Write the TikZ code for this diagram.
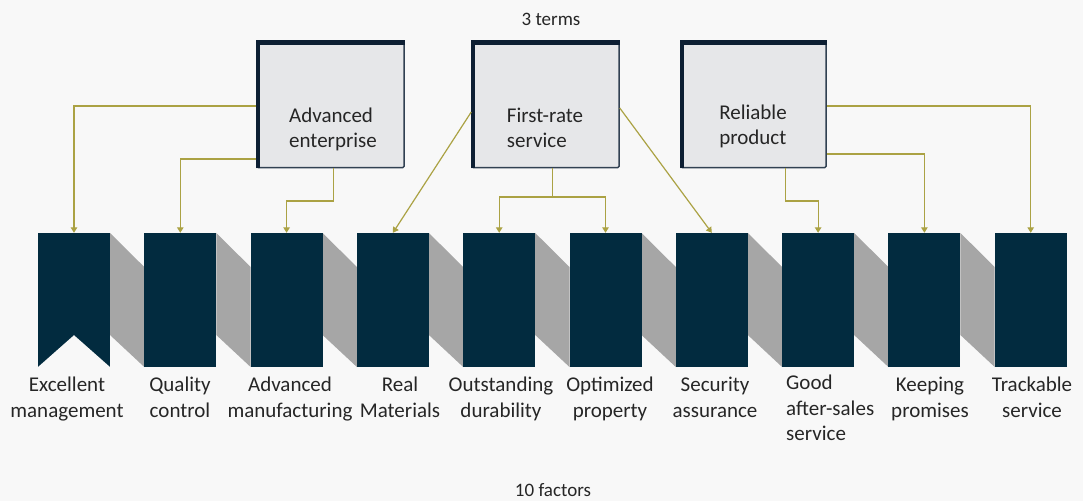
\documentclass[tikz,border=0pt]{standalone}
\usepackage{fontspec}
\setmainfont{Carlito}
\usetikzlibrary{arrows.meta}
\definecolor{bg}{HTML}{F8F8F8}
\definecolor{navy}{HTML}{022B3F}
\definecolor{shadowgray}{HTML}{A6A6A6}
\definecolor{boxfill}{HTML}{E6E7E9}
\definecolor{boxedge}{HTML}{0D1F33}
\definecolor{olive}{HTML}{ABA244}
\definecolor{txt}{HTML}{262626}
\begin{document}
\begin{tikzpicture}[x=1pt,y=-1pt,
 term/.style={draw=boxedge!85, line width=1.5pt, fill=boxfill, minimum height=126pt, inner sep=0pt, rounded corners=1.2pt},
 termtext/.style={font=\fontsize{21}{25}\selectfont, text=txt, align=left, inner sep=0pt},
 factor/.style={fill=navy, minimum width=72pt, minimum height=134pt, inner sep=0pt},
 flabel/.style={font=\fontsize{21}{25.5}\selectfont, text=txt, align=center, anchor=north, inner sep=0pt},
 caption/.style={font=\fontsize{19}{22}\selectfont, text=txt, inner sep=0pt},
 line/.style={draw=olive, line width=1.2pt},
 link/.style={line, -{Triangle[width=6.5pt,length=5.5pt]}},
 thick edge/.style={draw=boxedge, line width=4.5pt},
 band/.style={fill=shadowgray},
]
\fill[bg] (0,0) rectangle (1083,501);
\useasboundingbox (0,0) rectangle (1083,501);

% shadow bands between the factor bars
\foreach \i in {0,...,8}{
  \path[band] ({110+\i*106.3},233) -- ({144.3+\i*106.3},267) -- ({144.3+\i*106.3},367) -- ({110+\i*106.3},335) -- cycle;
}

% factor bars
\foreach \i in {1,...,10}{
  \node[factor] (f\i) at ({74+(\i-1)*106.3},300) {};
}
% notch of the first bar
\fill[bg] (f1.south west) -- ([yshift=32pt]f1.south) -- (f1.south east) -- cycle;

% term boxes
\node[term, minimum width=147pt] (b1) at (330.5,104.5) {};
\node[term, minimum width=147pt] (b2) at (545.5,104.5) {};
\node[term, minimum width=145pt] (b3) at (753.5,104.5) {};
\foreach \b in {b1,b2,b3}{
  \draw[thick edge] ([shift={(1.5pt,0pt)}]\b.south west) -- ([shift={(1.5pt,-1.5pt)}]\b.north west) -- ([shift={(0pt,-1.5pt)}]\b.north east);
}
\node[termtext] (t1) at (333,129) {Advanced\\enterprise};
\node[termtext] (t2) at (545,128) {First-rate\\service};
\node[termtext] (t3) at (753,126) {Reliable\\product};

% connectors
\draw[link] (b1.west |- 0,106) -| (f1.north);
\draw[link] (b1.west |- 0,159) -| (f2.north);
\coordinate (b1s) at ([xshift=3pt]b1.south);
\draw[link] (b1s) -- (b1s |- 0,201) -| (f3.north);

\draw[link] (b2.west |- 0,112) -- (f4.north);
\coordinate (b2s) at ([xshift=7pt]b2.south);
\coordinate (b2j) at (b2s |- 0,197);
\draw[line] (b2s) -- (b2j);
\draw[link] (b2j) -| (f5.north);
\draw[link] (b2j) -| (f6.north);
\draw[link] (b2.east |- 0,108) -- (f7.north);

\coordinate (b3s) at ([xshift=32pt]b3.south);
\draw[link] (b3s) -- (b3s |- 0,201) -| (f8.north);
\draw[link] (b3.east |- 0,154) -| (f9.north);
\draw[link] (b3.east |- 0,106) -| (f10.north);

% factor labels
\node[flabel] (l1) at (67,377) {Excellent\\management};
\node[flabel] (l2) at (180,377) {Quality\\control};
\node[flabel] (l3) at (290,377) {Advanced\\manufacturing};
\node[flabel] (l4) at (400,377) {Real\\Materials};
\node[flabel] (l5) at (501,377) {Outstanding\\durability};
\node[flabel] (l6) at (610,377) {Optimized\\property};
\node[flabel] (l7) at (715,377) {Security\\assurance};
\node[flabel, anchor=north west, align=left] (l8) at (786,375) {Good\\after-sales\\service};
\node[flabel] (l9) at (930,377) {Keeping\\promises};
\node[flabel] (l10) at (1032,377) {Trackable\\service};

% captions
\node[caption, anchor=base] (top) at (551,25) {3 terms};
\node[caption, anchor=base] (bottom) at (553,496) {10 factors};
\end{tikzpicture}
\end{document}
